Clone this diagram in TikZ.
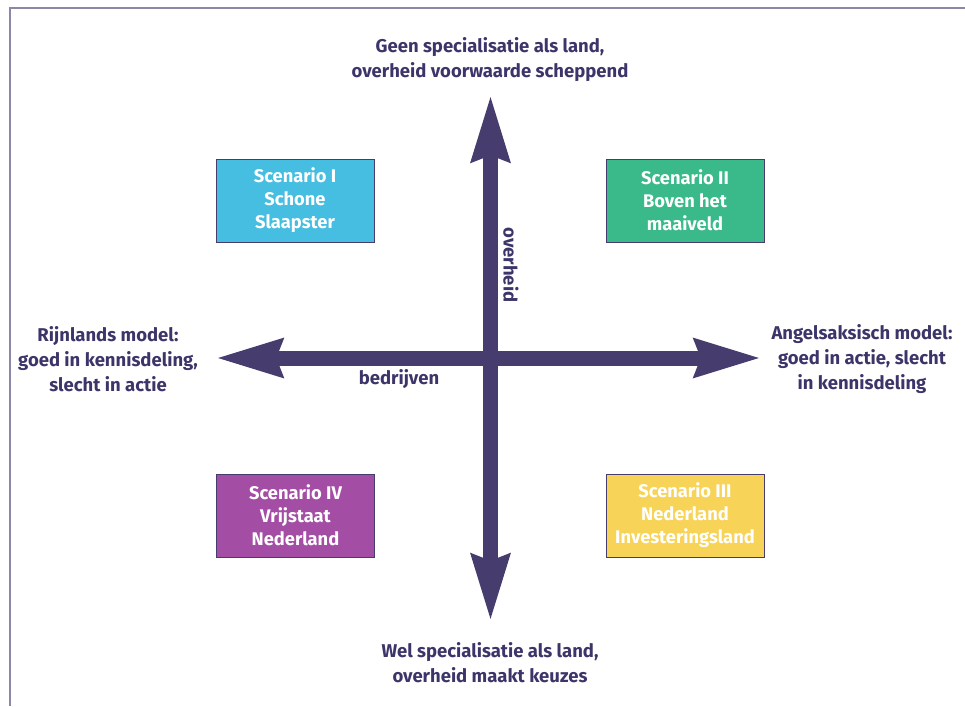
\documentclass[tikz,border=0pt]{standalone}
\usepackage{fontspec}
\setmainfont{Fira Sans}
\usetikzlibrary{arrows.meta, positioning}
\definecolor{AxisPurple}{HTML}{463C6D}
\definecolor{TextPurple}{HTML}{3C3569}
\definecolor{FramePurple}{HTML}{8B87A9}
\definecolor{ScenCyan}{HTML}{45BEE1}
\definecolor{ScenGreen}{HTML}{3AB98A}
\definecolor{ScenYellow}{HTML}{F7D357}
\definecolor{ScenPurple}{HTML}{A44DA5}

\begin{document}
\begin{tikzpicture}[x=1pt, y=-1pt,
			scen/.style={draw=AxisPurple, line width=1pt, rectangle, minimum width=158pt, minimum height=83pt,
				align=center, text=white, font=\fontsize{18.3}{23}\selectfont\bfseries, inner sep=0pt},
			lbl/.style={align=center, text=TextPurple, font=\fontsize{18.5}{24.8}\selectfont\bfseries, inner sep=0pt},
			axis/.style={AxisPurple, line width=15pt,
				{Stealth[length=66pt, width=36pt, inset=5pt]}-{Stealth[length=66pt, width=36pt, inset=5pt]}}
		]
		\useasboundingbox (0,0) rectangle (965,706);
		% frame
		\draw[FramePurple, line width=1.5pt] (10,706) -- (10,8) -- (965,8);
		% axes
		\coordinate (west) at (215,358);
		\coordinate (east) at (762,358);
		\coordinate (north) at (490.5,94);
		\coordinate (south) at (490.5,622);
		\draw[axis] (west) -- (east);
		\draw[axis] (south) -- (north);
		% scenarios
		\node (scenI) [scen, fill=ScenCyan] at (295,200.5) {Scenario I\\Schone\\Slaapster};
		\node (scenII) [scen, fill=ScenGreen] at (685,200.5) {Scenario II\\Boven het\\maaiveld};
		\node (scenIII) [scen, fill=ScenYellow] at (685,515.5) {Scenario III\\Nederland\\Investeringsland};
		\node (scenIV) [scen, fill=ScenPurple] at (295.5,515.5) {Scenario IV\\Vrijstaat\\Nederland};
		% labels
		\node (top) [lbl] at (490,59.5) {Geen specialisatie als land,\\overheid voorwaarde scheppend};
		\node (bottom) [lbl] at (490,662.5) {Wel specialisatie als land,\\overheid maakt keuzes};
		\node (left) [lbl] at (108,359) {Rijnlands model:\\goed in kennisdeling,\\slecht in actie};
		\node (right) [lbl] at (862,359) {Angelsaksisch model:\\goed in actie, slecht\\in kennisdeling};
		\node (overheid) [lbl, rotate=-90] at (511,265) {overheid};
		\node (bedrijven) [lbl] at (399,379) {bedrijven};
	\end{tikzpicture}
\end{document}
